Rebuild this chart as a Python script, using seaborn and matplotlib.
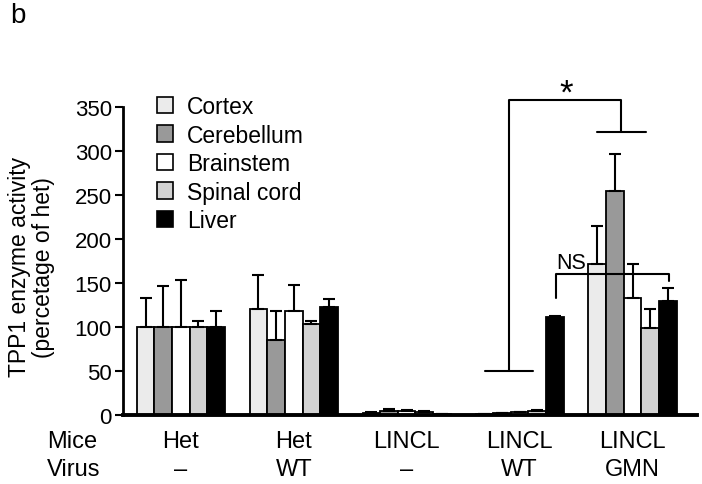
import matplotlib
matplotlib.use("Agg")
import matplotlib.pyplot as plt
import matplotlib.transforms as mtransforms
from matplotlib.patches import Patch
import seaborn as sns
import pandas as pd
import numpy as np

sns.set_style("white")
plt.rcParams['font.family'] = ['Liberation Sans', 'DejaVu Sans']
plt.rcParams['text.color'] = 'black'
plt.rcParams['axes.labelcolor'] = 'black'
plt.rcParams['xtick.color'] = 'black'
plt.rcParams['ytick.color'] = 'black'

groups = ["G1", "G2", "G3", "G4", "G5"]
mice_labels = ["Het", "Het", "LINCL", "LINCL", "LINCL"]
virus_labels = ["\u2013", "WT", "\u2013", "WT", "GMN"]
tissues = ["Cortex", "Cerebellum", "Brainstem", "Spinal cord", "Liver"]
colors = ["#ebebeb", "#999999", "#ffffff", "#d2d2d2", "#000000"]

cortex = [100, 120, 2, 1, 171]
cerebellum = [100, 85, 4, 2, 255]
brainstem = [100, 118, 4, 3, 133]
spinal = [100, 103, 3, 5, 99]
liver = [100, 123, 1, 111, 130]

cortex_err = [33, 39, 1, 0.5, 44]
cerebellum_err = [46, 33, 3, 0.5, 42]
brainstem_err = [53, 30, 2, 0.5, 39]
spinal_err = [7, 4, 1, 0.5, 21]
liver_err = [18, 9, 0.5, 1, 14]

values = [cortex, cerebellum, brainstem, spinal, liver]
errors = [cortex_err, cerebellum_err, brainstem_err, spinal_err, liver_err]

rows = []
for t, vals in zip(tissues, values):
    for g, v in zip(groups, vals):
        rows.append({"group": g, "tissue": t, "value": v})
df = pd.DataFrame(rows)

fig = plt.figure(figsize=(7.02, 4.85), dpi=100)
ax = fig.add_axes([0.175, 0.1423, 0.8177, 0.7258])

sns.barplot(data=df, x="group", y="value", hue="tissue", order=groups,
            hue_order=tissues, palette=colors, edgecolor="black",
            linewidth=1.3, width=0.78, ax=ax, errorbar=None)

for cont, errs in zip(ax.containers, errors):
    for bar, e in zip(cont, errs):
        xc = bar.get_x() + bar.get_width() / 2
        h = bar.get_height()
        ax.errorbar(xc, h, yerr=[[0], [e]], fmt="none", ecolor="black",
                    elinewidth=1.5, capsize=4.5, capthick=1.5, zorder=1)

ax.set_xlim(-0.513, 4.57)
ax.set_ylim(0, 400)
ax.set_yticks(np.arange(0, 351, 50))
ax.tick_params(axis="y", direction="out", length=6, width=1.5, labelsize=16,
               left=True, pad=2, colors="black")
ax.tick_params(axis="x", bottom=False, labelbottom=False)
ax.set_xlabel("")
ax.set_ylabel("TPP1 enzyme activity\n(percetage of het)", fontsize=16.5,
              linespacing=1.05, color="black")
ax.yaxis.set_label_coords(-0.118, 0.423)
for s in ["top", "right"]:
    ax.spines[s].set_visible(False)
ax.spines["left"].set_bounds(0, 350)
ax.spines["left"].set_linewidth(2)
ax.spines["bottom"].set_linewidth(2.8)
ax.spines["left"].set_color("black")
ax.spines["bottom"].set_color("black")

# legend
if ax.get_legend() is not None:
    ax.get_legend().remove()
handles = [Patch(facecolor=c, edgecolor="black", linewidth=1.2) for c in colors]
ax.legend(handles, tissues, loc="upper left", bbox_to_anchor=(0.044, 0.935),
          frameon=False, fontsize=16.5, handlelength=0.7, handleheight=0.7,
          handletextpad=0.6, labelspacing=0.24, borderaxespad=0,
          labelcolor="black")

# significance brackets
lw = 1.5
ax.plot([2.91, 2.91, 3.90, 3.90], [50, 358, 358, 322], color="black", lw=lw)
ax.plot([2.69, 3.12], [50, 50], color="black", lw=lw)
ax.plot([3.69, 4.12], [322, 322], color="black", lw=lw)
ax.text(3.41, 366, "*", ha="center", va="center", fontsize=25, color="black")

ax.plot([3.32, 3.32, 4.32, 4.32], [133, 160, 160, 152], color="black", lw=lw)
ax.text(3.46, 161, "NS", ha="center", va="bottom", fontsize=15.5, color="black")

# table labels below axis
trans = mtransforms.blended_transform_factory(ax.transData, ax.transAxes)
for i, (m, v) in enumerate(zip(mice_labels, virus_labels)):
    ax.text(i, -0.074, m, transform=trans, ha="center", va="center", fontsize=17)
    ax.text(i, -0.153, v, transform=trans, ha="center", va="center", fontsize=17)
fig.text(0.067, 1 - 442 / 485, "Mice", ha="left", va="center", fontsize=17)
fig.text(0.067, 1 - 470 / 485, "Virus", ha="left", va="center", fontsize=17)

fig.text(0.014, 1 - 16 / 485, "b", ha="left", va="center", fontsize=20)

fig.savefig("out.png", dpi=100)
